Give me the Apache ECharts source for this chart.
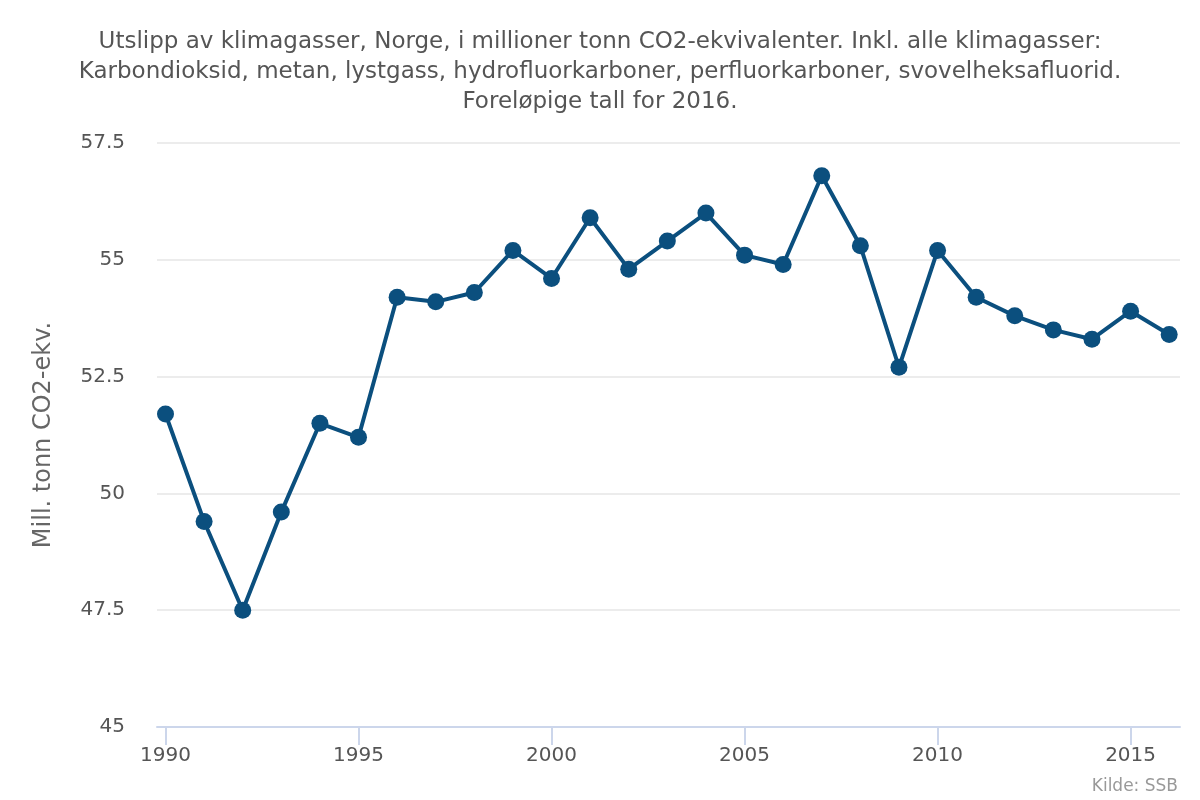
<!DOCTYPE html>
<html><head><meta charset="utf-8">
<script src="https://cdn.jsdelivr.net/npm/echarts@6/dist/echarts.min.js"></script>
<style>html,body{margin:0;padding:0;background:#fff}#c{width:1200px;height:800px}</style>
</head><body><div id="c"></div>
<script>
const years = [1990,1991,1992,1993,1994,1995,1996,1997,1998,1999,2000,2001,2002,2003,2004,2005,2006,2007,2008,2009,2010,2011,2012,2013,2014,2015,2016];
const emissions = [51.7,49.4,47.5,49.6,51.5,51.2,54.2,54.1,54.3,55.2,54.6,55.9,54.8,55.4,56.0,55.1,54.9,56.8,55.3,52.7,55.2,54.2,53.8,53.5,53.3,53.9,53.4];
const xTicks = [1990,1995,2000,2005,2010,2015];
const titleText = 'Utslipp av klimagasser, Norge, i millioner tonn CO2-ekvivalenter. Inkl. alle klimagasser:\nKarbondioksid, metan, lystgass, hydrofluorkarboner, perfluorkarboner, svovelheksafluorid.\nForeløpige tall for 2016.';
const yName = 'Mill. tonn CO2-ekv.';
const credit = 'Kilde: SSB';

const chart = echarts.init(document.getElementById('c'));
chart.setOption({
  animation: false,
  title: {
    text: titleText, left: 'center', top: 22,
    textStyle: {fontFamily: 'DejaVu Sans', fontSize: 23, fontWeight: 'normal', color: '#555', lineHeight: 30}
  },
  graphic: [{type: 'text', right: 22, bottom: 5, style: {text: credit, fontFamily: 'DejaVu Sans', fontSize: 17, fill: '#999'}}],
  grid: {left: 157, right: 20, top: 143, bottom: 73},
  xAxis: {
    type: 'value', min: 1989.78, max: 2016.28,
    axisLine: {show: true, lineStyle: {color: '#ccd6eb', width: 2}},
    axisTick: {show: true, inside: false, length: 18, lineStyle: {color: '#ccd6eb', width: 2}, customValues: xTicks},
    axisLabel: {customValues: xTicks, fontFamily: 'DejaVu Sans', fontSize: 20, color: '#555', margin: 19, formatter: v => String(v)},
    splitLine: {show: false}
  },
  yAxis: {
    type: 'value', min: 45, max: 57.5, interval: 2.5,
    name: yName, nameLocation: 'middle', nameGap: 101,
    nameTextStyle: {fontFamily: 'DejaVu Sans', fontSize: 24, color: '#666'},
    axisLine: {show: false}, axisTick: {show: false},
    axisLabel: {fontFamily: 'DejaVu Sans', fontSize: 20, color: '#555', margin: 32, formatter: v => String(v)},
    splitLine: {lineStyle: {color: '#e6e6e6', width: 1.5}}
  },
  series: [{
    type: 'line', data: years.map((y, i) => [y, emissions[i]]),
    symbol: 'circle', symbolSize: 17,
    lineStyle: {color: '#0b4f7e', width: 4},
    itemStyle: {color: '#0b4f7e'}
  }]
});
</script></body></html>
